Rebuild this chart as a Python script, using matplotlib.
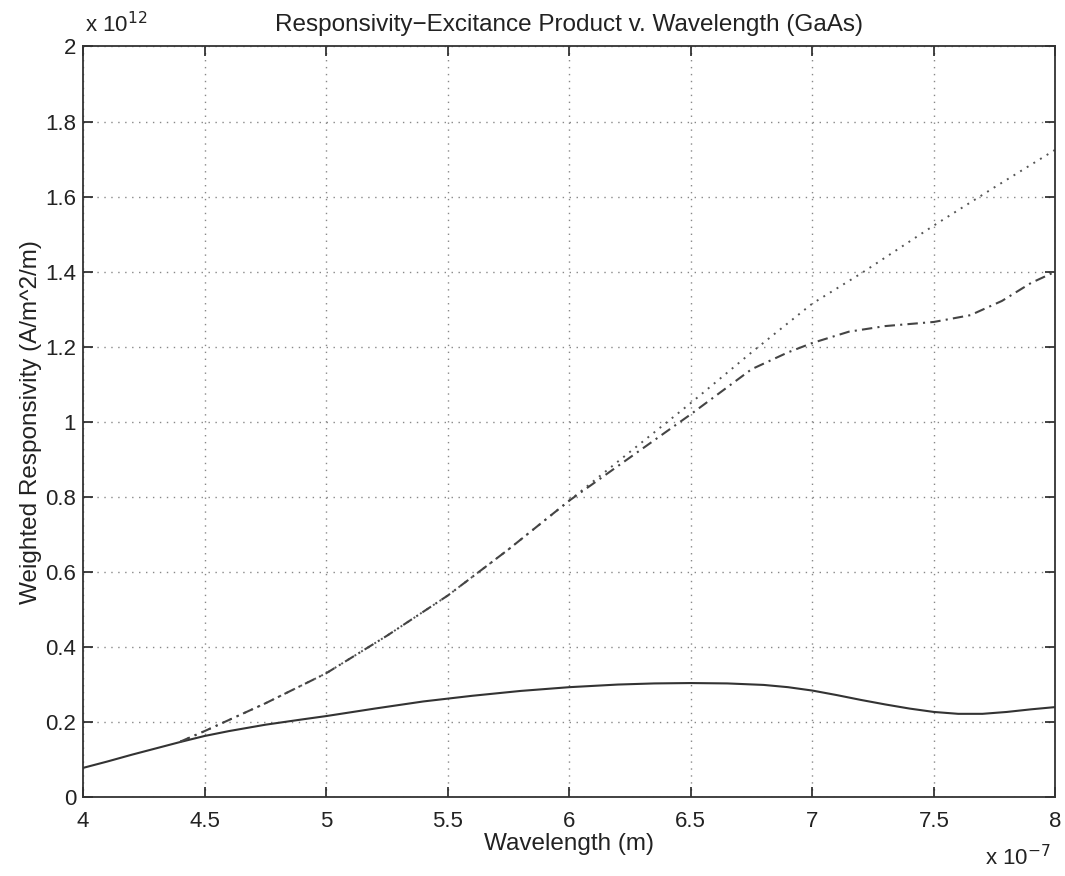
import matplotlib
matplotlib.use('Agg')
import matplotlib.pyplot as plt

plt.rcParams['font.family'] = ['Liberation Sans', 'DejaVu Sans']

# wavelength in units of 1e-7 m, responsivity in units of 1e12
wl_solid = [4.0, 4.1, 4.2, 4.3, 4.4, 4.5, 4.6, 4.75, 4.9, 5.0, 5.2, 5.4, 5.6, 5.8,
            6.0, 6.2, 6.35, 6.5, 6.65, 6.8, 6.9, 7.0, 7.1, 7.2, 7.3, 7.4, 7.5,
            7.6, 7.7, 7.8, 7.9, 8.0]
r_solid = [0.078, 0.095, 0.113, 0.130, 0.147, 0.163, 0.176, 0.193, 0.207, 0.216,
           0.236, 0.255, 0.270, 0.283, 0.293, 0.300, 0.303, 0.304, 0.303, 0.299,
           0.293, 0.284, 0.272, 0.259, 0.247, 0.236, 0.227, 0.222, 0.222, 0.227,
           0.234, 0.240]

wl_dot = [4.4, 4.5, 4.75, 5.0, 5.25, 5.5, 5.75, 6.0, 6.25, 6.5, 6.75, 7.0,
          7.2, 7.5, 7.75, 8.0]
r_dot = [0.148, 0.176, 0.250, 0.330, 0.430, 0.537, 0.660, 0.790, 0.920, 1.050,
         1.185, 1.315, 1.395, 1.523, 1.625, 1.725]

wl_dash = [4.4, 4.5, 4.75, 5.0, 5.25, 5.5, 5.75, 6.0, 6.25, 6.5, 6.75, 6.9, 7.0,
           7.15, 7.3, 7.5, 7.65, 7.78, 7.9, 8.0]
r_dash = [0.148, 0.176, 0.250, 0.330, 0.430, 0.537, 0.660, 0.790, 0.905, 1.020,
          1.140, 1.185, 1.210, 1.240, 1.255, 1.266, 1.284, 1.322, 1.370, 1.400]

xticks = [4, 4.5, 5, 5.5, 6, 6.5, 7, 7.5, 8]
yticks = [0, 0.2, 0.4, 0.6, 0.8, 1, 1.2, 1.4, 1.6, 1.8, 2]

INK = '#222222'

fig = plt.figure(figsize=(10.65, 8.76), dpi=100, facecolor='white')
ax = fig.add_axes([0.078, 0.090, 0.913, 0.857])

ax.plot(wl_solid, r_solid, color='#333333', lw=1.5, ls='-')
ax.plot(wl_dot, r_dot, color='#555555', lw=1.4, ls=(0, (1, 3)))
ax.plot(wl_dash, r_dash, color='#444444', lw=1.5, ls=(0, (5, 2.5, 1, 2.5)))

ax.set_xlim(4, 8)
ax.set_ylim(0, 2)
ax.set_xticks(xticks)
ax.set_yticks(yticks)
ax.set_xticklabels([f'{t:g}' for t in xticks])
ax.set_yticklabels([f'{t:g}' for t in yticks])
ax.tick_params(direction='in', length=7, width=1.2, labelsize=16,
               top=True, right=True, colors=INK)
ax.tick_params(axis='x', pad=10)
ax.tick_params(axis='y', pad=5)
ax.grid(True, ls=(0, (1, 4)), color='#888888', lw=1.0)
for s in ax.spines.values():
    s.set_linewidth(1.3)
    s.set_color('#333333')

ax.set_title('Responsivity\u2212Excitance Product v. Wavelength (GaAs)',
             fontsize=17.5, color=INK, pad=11)
ax.set_xlabel('Wavelength (m)', fontsize=17.5, color=INK, labelpad=1)
ax.set_ylabel('Weighted Responsivity (A/m^2/m)', fontsize=17.5, color=INK, labelpad=2)

fig.text(0.080, 0.963, r'x 10$^{12}$', fontsize=16, color=INK)
fig.text(0.925, 0.012, r'x 10$^{-7}$', fontsize=16, color=INK)

fig.savefig('out.png', dpi=100, facecolor='white')
